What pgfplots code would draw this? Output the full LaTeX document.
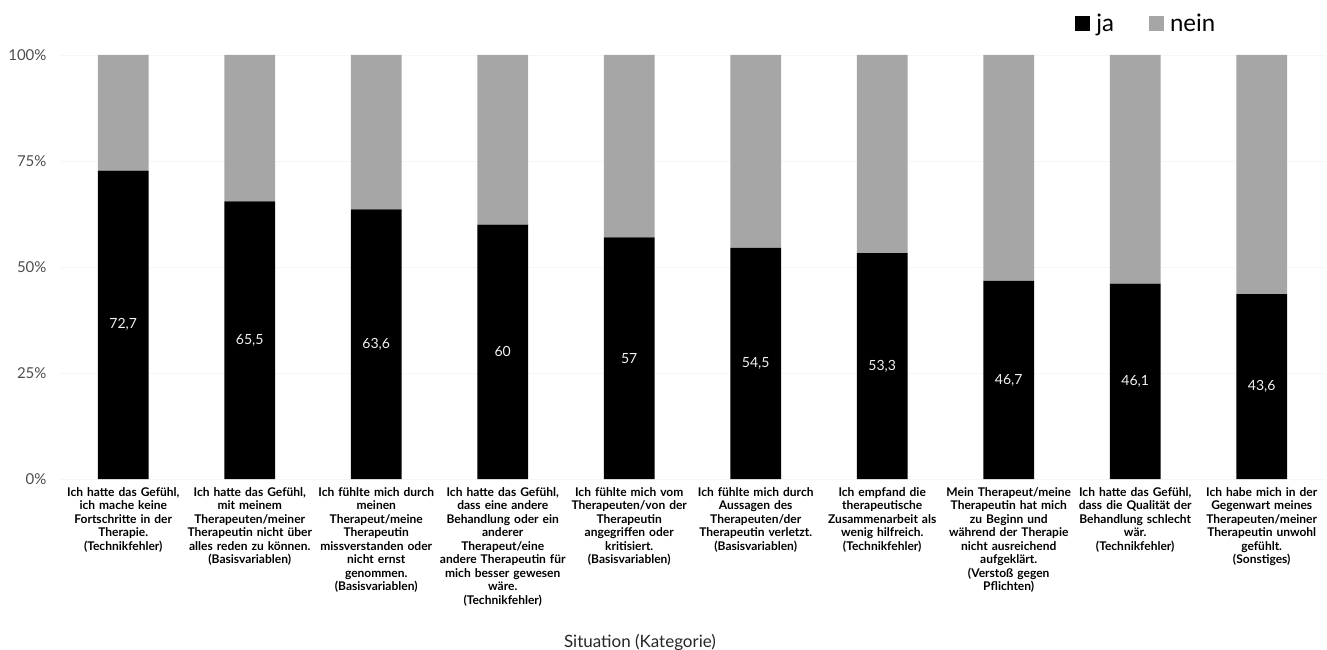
\documentclass[border=0pt]{standalone}
\usepackage{fontspec}
\setmainfont{Lato}
\usepackage{pgfplots}
\usepackage{pgfplotstable}
\pgfplotsset{compat=1.18}
\definecolor{neingray}{HTML}{A6A6A6}
\definecolor{txtgray}{HTML}{4D4D4D}
\pgfplotstableread{
x ja nein
0 72.7 27.3
1 65.5 34.5
2 63.6 36.4
3 60 40
4 57 43
5 54.5 45.5
6 53.3 46.7
7 46.7 53.3
8 46.1 53.9
9 43.6 56.4
}\datatable
\begin{document}
\begin{tikzpicture}
\path[use as bounding box] (-60pt,-171pt) rectangle (1267pt,479pt);
\begin{axis}[
  at={(0pt,0pt)}, anchor=south west,
  scale only axis, width=1265pt, height=424pt,
  ybar stacked, bar width=0.4,
  xmin=-0.5, xmax=9.5, ymin=0, ymax=100,
  axis line style={draw=none},
  major tick style={draw=none},
  ymajorgrids, grid style={gray!7},
  ytick={0,25,50,75,100},
  yticklabel={\pgfmathprintnumber{\tick}\%},
  /pgf/number format/assume math mode=true,
  yticklabel style={font=\fontsize{15}{17}\selectfont, text=txtgray, xshift=-10pt},
  xtick={0,...,9},
  xticklabels={
    {Ich hatte das Gefühl,\\ ich mache keine\\ Fortschritte in der\\ Therapie.\\ (Technikfehler)},
    {Ich hatte das Gefühl,\\ mit meinem\\ Therapeuten/meiner\\ Therapeutin nicht über\\ alles reden zu können.\\ (Basisvariablen)},
    {Ich fühlte mich durch\\ meinen\\ Therapeut/meine\\ Therapeutin\\ missverstanden oder\\ nicht ernst\\ genommen.\\ (Basisvariablen)},
    {Ich hatte das Gefühl,\\ dass eine andere\\ Behandlung oder ein\\ anderer\\ Therapeut/eine\\ andere Therapeutin für\\ mich besser gewesen\\ wäre.\\ (Technikfehler)},
    {Ich fühlte mich vom\\ Therapeuten/von der\\ Therapeutin\\ angegriffen oder\\ kritisiert.\\ (Basisvariablen)},
    {Ich fühlte mich durch\\ Aussagen des\\ Therapeuten/der\\ Therapeutin verletzt.\\ (Basisvariablen)},
    {Ich empfand die\\ therapeutische\\ Zusammenarbeit als\\ wenig hilfreich.\\ (Technikfehler)},
    {Mein Therapeut/meine\\ Therapeutin hat mich\\ zu Beginn und\\ während der Therapie\\ nicht ausreichend\\ aufgeklärt.\\ (Verstoß gegen\\ Pflichten)},
    {Ich hatte das Gefühl,\\ dass die Qualität der\\ Behandlung schlecht\\ wär.\\ (Technikfehler)},
    {Ich habe mich in der\\ Gegenwart meines\\ Therapeuten/meiner\\ Therapeutin unwohl\\ gefühlt.\\ (Sonstiges)}
  },
  xticklabel style={text width=140pt, align=center, anchor=north, yshift=-5pt,
    font=\fontsize{12}{13.5}\selectfont\bfseries},
  xlabel={Situation (Kategorie)},
  xlabel style={at={(axis description cs:0.4585,0)}, anchor=center, yshift=-163pt,
    font=\fontsize{17}{19}\selectfont, text=black!85},
  legend style={draw=none, fill=none, at={(0.915,1.101)}, anchor=north east,
    inner sep=0pt, legend columns=2, font=\fontsize{24}{26}\selectfont,
    /tikz/every even column/.append style={column sep=33pt}},
]
\addplot[fill=black, draw=none,
  legend image code/.code={\fill[black] (0pt,-7pt) rectangle (15pt,8pt); \path (19pt,0pt);},
] table[x=x, y=ja] {\datatable};
\addlegendentry{ja}
\addplot[fill=neingray, draw=none,
  legend image code/.code={\fill[neingray] (0pt,-7pt) rectangle (15pt,8pt); \path (19pt,0pt);},
] table[x=x, y=nein] {\datatable};
\addlegendentry{nein}
\end{axis}
\begin{axis}[
  at={(0pt,0pt)}, anchor=south west,
  scale only axis, width=1265pt, height=424pt,
  xmin=-0.5, xmax=9.5, ymin=0, ymax=100,
  hide axis,
  /pgf/number format/assume math mode=true,
]
\addplot[draw=none, mark=none,
  nodes near coords={\pgfmathprintnumber[use comma, assume math mode=true]{\pgfplotspointmeta}},
  point meta=explicit,
  every node near coord/.append style={anchor=center, text=white!95!black,
    font=\fontsize{14}{16}\selectfont},
] table[x=x, y expr=\thisrow{ja}/2, meta=ja] {\datatable};
\end{axis}
\end{tikzpicture}
\end{document}
